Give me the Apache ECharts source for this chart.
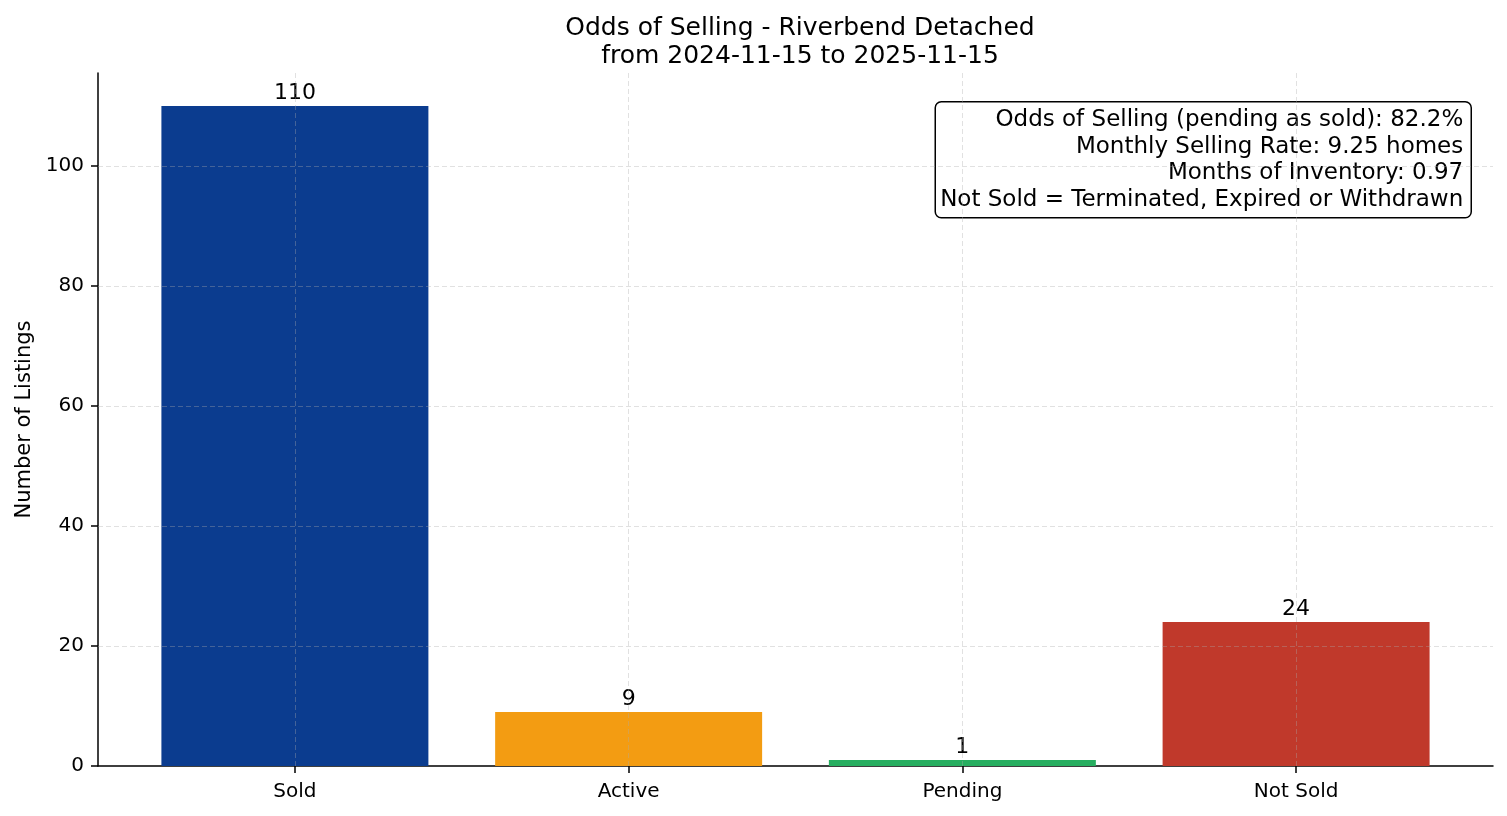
<!DOCTYPE html>
<html>
<head>
<meta charset="utf-8">
<title>Odds of Selling - Riverbend Detached</title>
<script src="https://cdn.jsdelivr.net/npm/echarts@6/dist/echarts.min.js"></script>
<style>
  html, body { margin: 0; padding: 0; background: #fff; }
  #chart { width: 1507px; height: 816px; }
</style>
</head>
<body>
<div id="chart"></div>
<script>
var categories = ['Sold', 'Active', 'Pending', 'Not Sold'];
var counts = [110, 9, 1, 24];
var barColors = ['#0B3C8F', '#F39C12', '#27AE60', '#C0392B'];
var yTicks = [0, 20, 40, 60, 80, 100];
var infoLines = [
    'Odds of Selling (pending as sold): 82.2%',
    'Monthly Selling Rate: 9.25 homes',
    'Months of Inventory: 0.97',
    'Not Sold = Terminated, Expired or Withdrawn'
];

var font = 'DejaVu Sans';
var gridLeft = 98, gridRight = 14;
var xMin = -0.59, xMax = 3.59;
var plotWidth = 1507 - gridLeft - gridRight;
var barPx = 0.8 * plotWidth / (xMax - xMin);
var xTicks = categories.map(function (c, i) { return i; });

var chart = echarts.init(document.getElementById('chart'));

// grid lines sit on top of the bars, like the original
var gridLineStyle = {
    type: [5, 3],
    color: 'rgba(170,170,170,0.45)',
    width: 0.8
};
var gridMarks = yTicks.filter(function (v) { return v > 0; }).map(function (v) {
    return { yAxis: v };
}).concat(xTicks.map(function (v) {
    return { xAxis: v };
}));

var boxW = 536, boxH = 116;

chart.setOption({
    animation: false,
    backgroundColor: '#fff',
    title: {
        text: 'Odds of Selling - Riverbend Detached\nfrom 2024-11-15 to 2025-11-15',
        left: 795,
        textAlign: 'center',
        top: 9,
        textStyle: {
            fontFamily: font,
            fontSize: 25,
            fontWeight: 'normal',
            color: '#000',
            lineHeight: 28
        }
    },
    grid: {
        left: gridLeft,
        right: gridRight,
        top: 73,
        bottom: 50
    },
    xAxis: {
        type: 'value',
        min: xMin,
        max: xMax,
        splitLine: { show: false },
        axisLine: { show: true, onZero: false, lineStyle: { color: '#000', width: 1.5 } },
        axisTick: {
            show: true,
            length: 7,
            customValues: xTicks,
            lineStyle: { color: '#000', width: 1.5 }
        },
        axisLabel: {
            customValues: xTicks,
            margin: 16,
            fontFamily: font,
            fontSize: 20,
            color: '#000',
            formatter: function (v) { return categories[Math.round(v)]; }
        }
    },
    yAxis: {
        type: 'value',
        min: 0,
        max: 115.5,
        name: 'Number of Listings',
        nameLocation: 'middle',
        nameGap: 63,
        nameTextStyle: { fontFamily: font, fontSize: 21, color: '#000' },
        splitLine: { show: false },
        axisLine: { show: true, onZero: false, lineStyle: { color: '#000', width: 1.5 } },
        axisTick: {
            show: true,
            length: 7,
            customValues: yTicks,
            lineStyle: { color: '#000', width: 1.5 }
        },
        axisLabel: {
            customValues: yTicks,
            margin: 14,
            fontFamily: font,
            fontSize: 20,
            color: '#000'
        }
    },
    series: [{
        type: 'bar',
        barWidth: barPx,
        data: counts.map(function (v, i) {
            return { value: [i, v], itemStyle: { color: barColors[i] } };
        }),
        label: {
            show: true,
            position: 'top',
            distance: 2,
            fontFamily: font,
            fontSize: 22,
            color: '#000',
            formatter: function (p) { return p.value[1]; }
        },
        markLine: {
            silent: true,
            symbol: 'none',
            label: { show: false },
            lineStyle: gridLineStyle,
            emphasis: { disabled: true },
            data: gridMarks
        }
    }],
    graphic: [{
        type: 'group',
        right: 35,
        top: 101,
        z: 100,
        children: [{
            type: 'rect',
            shape: { x: 0, y: 0, width: boxW, height: boxH, r: 6 },
            style: { fill: '#fff', stroke: '#000', lineWidth: 1.5 }
        }, {
            type: 'text',
            x: boxW - 8,
            y: 5,
            style: {
                text: infoLines.join('\n'),
                fontFamily: font,
                fontSize: 23,
                lineHeight: 26.7,
                fill: '#000',
                align: 'right',
                verticalAlign: 'top'
            }
        }]
    }]
});
</script>
</body>
</html>
